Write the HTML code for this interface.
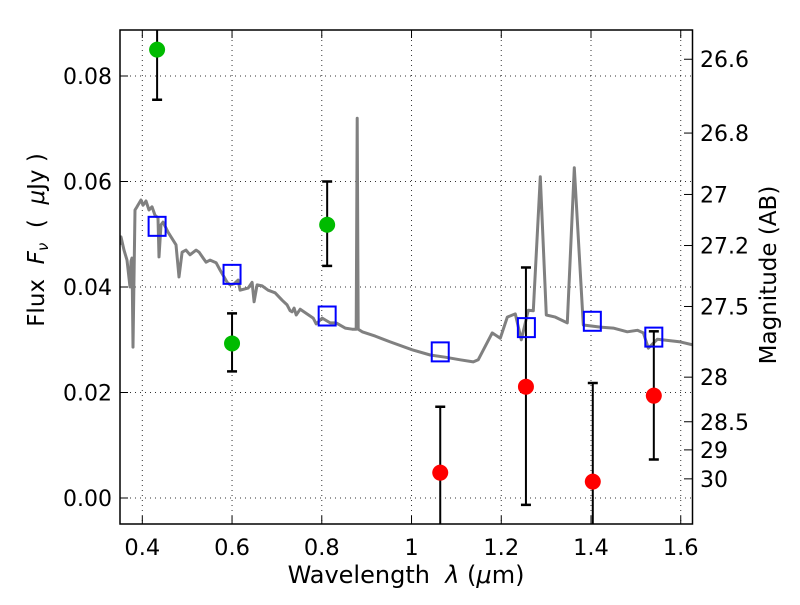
<!DOCTYPE html>
<html><head><meta charset="utf-8"><style>
body{margin:0;background:#fff;}
svg text{font-family:"DejaVu Sans","Liberation Sans",sans-serif;white-space:pre;}
</style></head><body>
<svg id="chart" width="800" height="600" xmlns="http://www.w3.org/2000/svg">
<rect width="800" height="600" fill="#fff"/>
<g id="grid"></g>
<g id="spec"></g>
<g id="marks"></g>
<rect x="120" y="30" width="572.5" height="494" fill="none" stroke="#000" stroke-width="1.5"/>
<g id="axes"></g>
<text x="406" y="583" font-size="24" text-anchor="middle" xml:space="preserve">Wavelength  <tspan font-style="italic">λ</tspan> (<tspan font-style="italic">μ</tspan>m)</text>
<text transform="translate(44,240) rotate(-90)" font-size="23" text-anchor="middle" xml:space="preserve">Flux  <tspan font-style="italic">F</tspan><tspan font-size="15" font-style="italic" dy="4">ν</tspan><tspan dy="-4">  (  </tspan><tspan font-style="italic">μ</tspan>Jy )</text>
<text transform="translate(776,275) rotate(-90)" font-size="23" text-anchor="middle">Magnitude (AB)</text>
</svg>
<script>
const xTicks=[0.4,0.6,0.8,1.0,1.2,1.4,1.6];
const xTickLabels=["0.4","0.6","0.8","1","1.2","1.4","1.6"];
const yTicks=[0,0.02,0.04,0.06,0.08];
const yTickLabels=["0.00","0.02","0.04","0.06","0.08"];
const magTicks=[26.6,26.8,27,27.2,27.5,28,28.5,29,30];
const magTickLabels=["26.6","26.8","27","27.2","27.5","28","28.5","29","30"];
const specWave=[0.3503,0.3525,0.3592,0.3659,0.3726,0.3748,0.3770,0.3792,0.3837,0.3882,0.3971,0.4016,0.4083,0.4150,0.4216,0.4283,0.4350,0.4372,0.4417,0.4462,0.4573,0.4752,0.4819,0.4886,0.4975,0.5064,0.5198,0.5265,0.5354,0.5421,0.5510,0.5644,0.5733,0.5822,0.5889,0.5956,0.6046,0.6135,0.6179,0.6358,0.6447,0.6491,0.6558,0.6670,0.6803,0.6960,0.7116,0.7228,0.7295,0.7339,0.7384,0.7429,0.7518,0.7808,0.7875,0.8009,0.8187,0.8321,0.8522,0.8678,0.8767,0.8789,0.8811,0.8901,0.9190,0.9525,1.0015,1.0417,1.0751,1.1086,1.1376,1.1487,1.1799,1.1978,1.2134,1.2312,1.2446,1.2602,1.2714,1.2870,1.3004,1.3204,1.3472,1.3628,1.3829,1.4208,1.4498,1.4810,1.5033,1.5167,1.5278,1.5479,1.5992,1.6282];
const specFlux=[0.0480,0.0495,0.0470,0.0451,0.0400,0.0449,0.0455,0.0286,0.0546,0.0552,0.0565,0.0555,0.0563,0.0546,0.0552,0.0536,0.0531,0.0457,0.0518,0.0523,0.0504,0.0480,0.0419,0.0466,0.0470,0.0461,0.0470,0.0466,0.0455,0.0447,0.0451,0.0446,0.0432,0.0419,0.0409,0.0404,0.0406,0.0413,0.0394,0.0398,0.0409,0.0372,0.0404,0.0402,0.0394,0.0389,0.0375,0.0366,0.0355,0.0353,0.0360,0.0347,0.0358,0.0341,0.0330,0.0341,0.0332,0.0332,0.0322,0.0320,0.0320,0.0720,0.0320,0.0315,0.0307,0.0296,0.0281,0.0271,0.0267,0.0262,0.0258,0.0262,0.0313,0.0303,0.0343,0.0349,0.0300,0.0356,0.0355,0.0609,0.0347,0.0343,0.0332,0.0626,0.0328,0.0324,0.0322,0.0315,0.0318,0.0313,0.0284,0.0301,0.0296,0.0290];
const goodWave=[0.433,0.600,0.812];
const goodFlux=[0.0850,0.0293,0.0518];
const goodLo=[0.0755,0.0240,0.0440];
const goodHi=[0.095,0.0350,0.0600];
const badWave=[1.064,1.255,1.404,1.540];
const badFlux=[0.0048,0.0211,0.0031,0.0194];
const badLo=[-0.010,-0.0013,-0.010,0.0073];
const badHi=[0.0173,0.0437,0.0218,0.0316];
const modelWave=[0.433,0.600,0.812,1.064,1.256,1.403,1.540];
const modelFlux=[0.0515,0.0424,0.0345,0.0277,0.0323,0.0335,0.0305];

const X=v=>142.3+(v-0.4)*448.7;
const Y=v=>498-v*5275;
const NS="http://www.w3.org/2000/svg";
function mk(parent,tag,attrs){const e=document.createElementNS(NS,tag);for(const k in attrs)e.setAttribute(k,attrs[k]);parent.appendChild(e);return e;}
const grid=document.getElementById('grid'),axes=document.getElementById('axes'),spec=document.getElementById('spec'),marks=document.getElementById('marks');
xTicks.forEach((t,i)=>{const x=X(t);
 const g=mk(grid,'line',{x1:x,x2:x,y1:30,y2:524,stroke:'#000','stroke-width':1,'stroke-dasharray':'1,4',opacity:0.8});
 
 
 mk(axes,'line',{x1:x,x2:x,y1:524,y2:516,stroke:'#000'});mk(axes,'line',{x1:x,x2:x,y1:30,y2:38,stroke:'#000'});
 const tx=mk(axes,'text',{x:x,y:555,'font-size':22.5,'text-anchor':'middle'});tx.textContent=xTickLabels[i];
 
 
});
yTicks.forEach((t,i)=>{const y=Y(t);
 const g=mk(grid,'line',{x1:120,x2:692,y1:y,y2:y,stroke:'#000','stroke-width':1,'stroke-dasharray':'1,4',opacity:0.8});
 
 
 mk(axes,'line',{x1:120,x2:128,y1:y,y2:y,stroke:'#000'});
 const tx=mk(axes,'text',{x:112,y:y+8,'font-size':22,'text-anchor':'end'});tx.textContent=yTickLabels[i];
 
 
});
magTicks.forEach((m,i)=>{const y=Y(Math.pow(10,(23.9-m)/2.5));
 mk(axes,'line',{x1:684,x2:692,y1:y,y2:y,stroke:'#000'});
 const tx=mk(axes,'text',{x:700,y:y+8,'font-size':22});tx.textContent=magTickLabels[i];
 
 
});
const cp=mk(document.getElementById('chart'),'clipPath',{id:'clip'});mk(cp,'rect',{x:120,y:30,width:572.5,height:494});
spec.setAttribute('clip-path','url(#clip)');
marks.setAttribute('clip-path','url(#clip)');
const d=specWave.map((w,i)=>(i?'L':'M')+X(w).toFixed(1)+','+Y(specFlux[i]).toFixed(1)).join('');
const sp=mk(spec,'path',{d:d,fill:'none',stroke:'#808080','stroke-width':3,'stroke-linejoin':'round'});


function errbar(w,lo,hi){const x=X(w);
 mk(marks,'line',{x1:x,x2:x,y1:Y(hi),y2:Y(lo),stroke:'#000','stroke-width':2});
 [lo,hi].forEach(v=>mk(marks,'line',{x1:x-5,x2:x+5,y1:Y(v),y2:Y(v),stroke:'#000','stroke-width':2.5}));}
goodWave.forEach((w,i)=>{errbar(w,goodLo[i],goodHi[i]);
 const c=mk(marks,'circle',{cx:X(w),cy:Y(goodFlux[i]),r:8,fill:'#00bb00'});
 
 });
badWave.forEach((w,i)=>{errbar(w,badLo[i],badHi[i]);
 const c=mk(marks,'circle',{cx:X(w),cy:Y(badFlux[i]),r:8,fill:'#ff0000'});
 
 });
modelWave.forEach((w,i)=>{
 const r=mk(marks,'rect',{x:X(w)-8.5,y:Y(modelFlux[i])-9.5,width:17,height:19,fill:'none',stroke:'#0000ff','stroke-width':2});
 
 });
</script>
</body></html>
